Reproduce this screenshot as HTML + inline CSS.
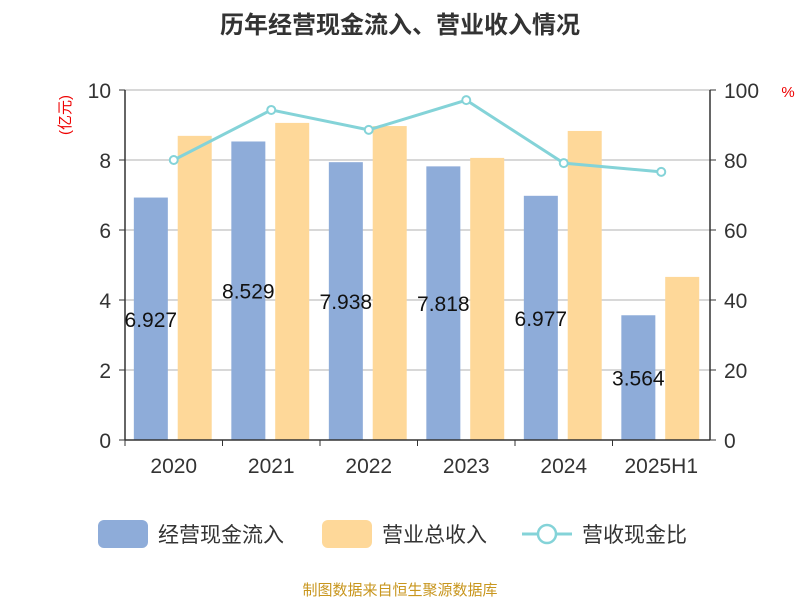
<!DOCTYPE html>
<html><head><meta charset="utf-8"><style>
body{margin:0;background:#fff;}
svg text{font-family:"Liberation Sans","Noto Sans CJK SC",sans-serif;}
</style></head><body>
<svg id="chart" width="800" height="600" xmlns="http://www.w3.org/2000/svg">
<text x="400" y="33" text-anchor="middle" font-size="24" font-weight="bold" fill="#333">历年经营现金流入、营业收入情况</text>
<text transform="translate(70,115) rotate(-90)" text-anchor="middle" font-size="15" fill="#e00">(亿元)</text>
<text x="788" y="97" text-anchor="middle" font-size="15" fill="#e00">%</text>
<g id="grid"></g><g id="bars"></g><g id="line"></g><g id="axes"></g><g id="labels"></g>
<g>
<rect x="98" y="520" width="50" height="28" rx="6" fill="#8eacd9"/>
<text x="158" y="542" font-size="21" fill="#333">经营现金流入</text>
<rect x="322" y="520" width="50" height="28" rx="6" fill="#fed899"/>
<text x="382" y="542" font-size="21" fill="#333">营业总收入</text>
<line x1="522" y1="534" x2="572" y2="534" stroke="#84d3d8" stroke-width="3"/>
<circle cx="547" cy="534" r="9" fill="#fff" stroke="#84d3d8" stroke-width="2.5"/>
<text x="582" y="542" font-size="21" fill="#333">营收现金比</text>
</g>
<text x="400" y="595" text-anchor="middle" font-size="15" fill="#c8961e">制图数据来自恒生聚源数据库</text>
</svg>
<script>
const categories=["2020","2021","2022","2023","2024","2025H1"];
const cashInflow=[6.927,8.529,7.938,7.818,6.977,3.564];
const revenue=[8.69,9.06,8.97,8.06,8.83,4.66];
const ratio=[80,94.3,88.6,97.1,79.1,76.6];
const leftTicks=[0,2,4,6,8,10];
const rightTicks=[0,20,40,60,80,100];
const NS="http://www.w3.org/2000/svg";
const X0=125,X1=710,Y0=440,Y1=90;
const band=(X1-X0)/categories.length;
const yL=v=>Y0-(v/10)*(Y0-Y1);
const yR=v=>Y0-(v/100)*(Y0-Y1);
const xC=i=>X0+band*(i+0.5);
function mk(tag,attrs,parent,txt){const e=document.createElementNS(NS,tag);for(const k in attrs)e.setAttribute(k,attrs[k]);if(txt!==undefined)e.textContent=txt;document.getElementById(parent).appendChild(e);return e;}
leftTicks.forEach((t,i)=>{
 const y=yL(t);
 if(t>0){const g=mk("line",{x1:X0,x2:X1,y1:y,y2:y,stroke:"#ccc","stroke-width":1.5},"grid");
 
 }
 const tl=mk("text",{x:X0-14,y:y+8,"text-anchor":"end","font-size":21,fill:"#333"},"axes",t);
 
 
 const tk=mk("line",{x1:X0-6,x2:X0,y1:y,y2:y,stroke:"#333"},"axes");
 
 
});
rightTicks.forEach(t=>{
 const y=yR(t);
 const tl=mk("text",{x:X1+14,y:y+8,"font-size":21,fill:"#333"},"axes",t);
 
 
 const tk=mk("line",{x1:X1,x2:X1+6,y1:y,y2:y,stroke:"#333"},"axes");
 
 
});
[["left-axis",X0,X0,Y1,Y0],["right-axis",X1,X1,Y1,Y0],["x-axis",X0,X1,Y0,Y0]].forEach(a=>{
 const l=mk("line",{x1:a[1],x2:a[2],y1:a[3],y2:a[4],stroke:"#333","stroke-width":1.5},"axes");
 
 
});
categories.forEach((c,i)=>{
 const x=xC(i);
 const tk=mk("line",{x1:X0+band*i,x2:X0+band*i,y1:Y0,y2:Y0+6,stroke:"#333"},"axes");
 
 
 const tl=mk("text",{x:x,y:Y0+33,"text-anchor":"middle","font-size":21,fill:"#333"},"axes",c);
 
 
 const bw=34;
 const b1=mk("rect",{x:x-band*0.235-bw/2,y:yL(cashInflow[i]),width:bw,height:Y0-yL(cashInflow[i]),fill:"#8eacd9"},"bars");
 
 
 const b2=mk("rect",{x:x+band*0.215-bw/2,y:yL(revenue[i]),width:bw,height:Y0-yL(revenue[i]),fill:"#fed899"},"bars");
 
 
 const lb=mk("text",{x:x-band*0.235,y:(yL(cashInflow[i])+Y0)/2+8,"text-anchor":"middle","font-size":21,fill:"#111"},"labels",cashInflow[i].toFixed(3));
 
 
});
const pl=mk("polyline",{points:ratio.map((v,i)=>xC(i)+","+yR(v)).join(" "),fill:"none",stroke:"#84d3d8","stroke-width":3},"line");


ratio.forEach((v,i)=>{
 const p=mk("circle",{cx:xC(i),cy:yR(v),r:4,fill:"#fff",stroke:"#84d3d8","stroke-width":2},"line");
 
 
});
</script>
</body></html>
